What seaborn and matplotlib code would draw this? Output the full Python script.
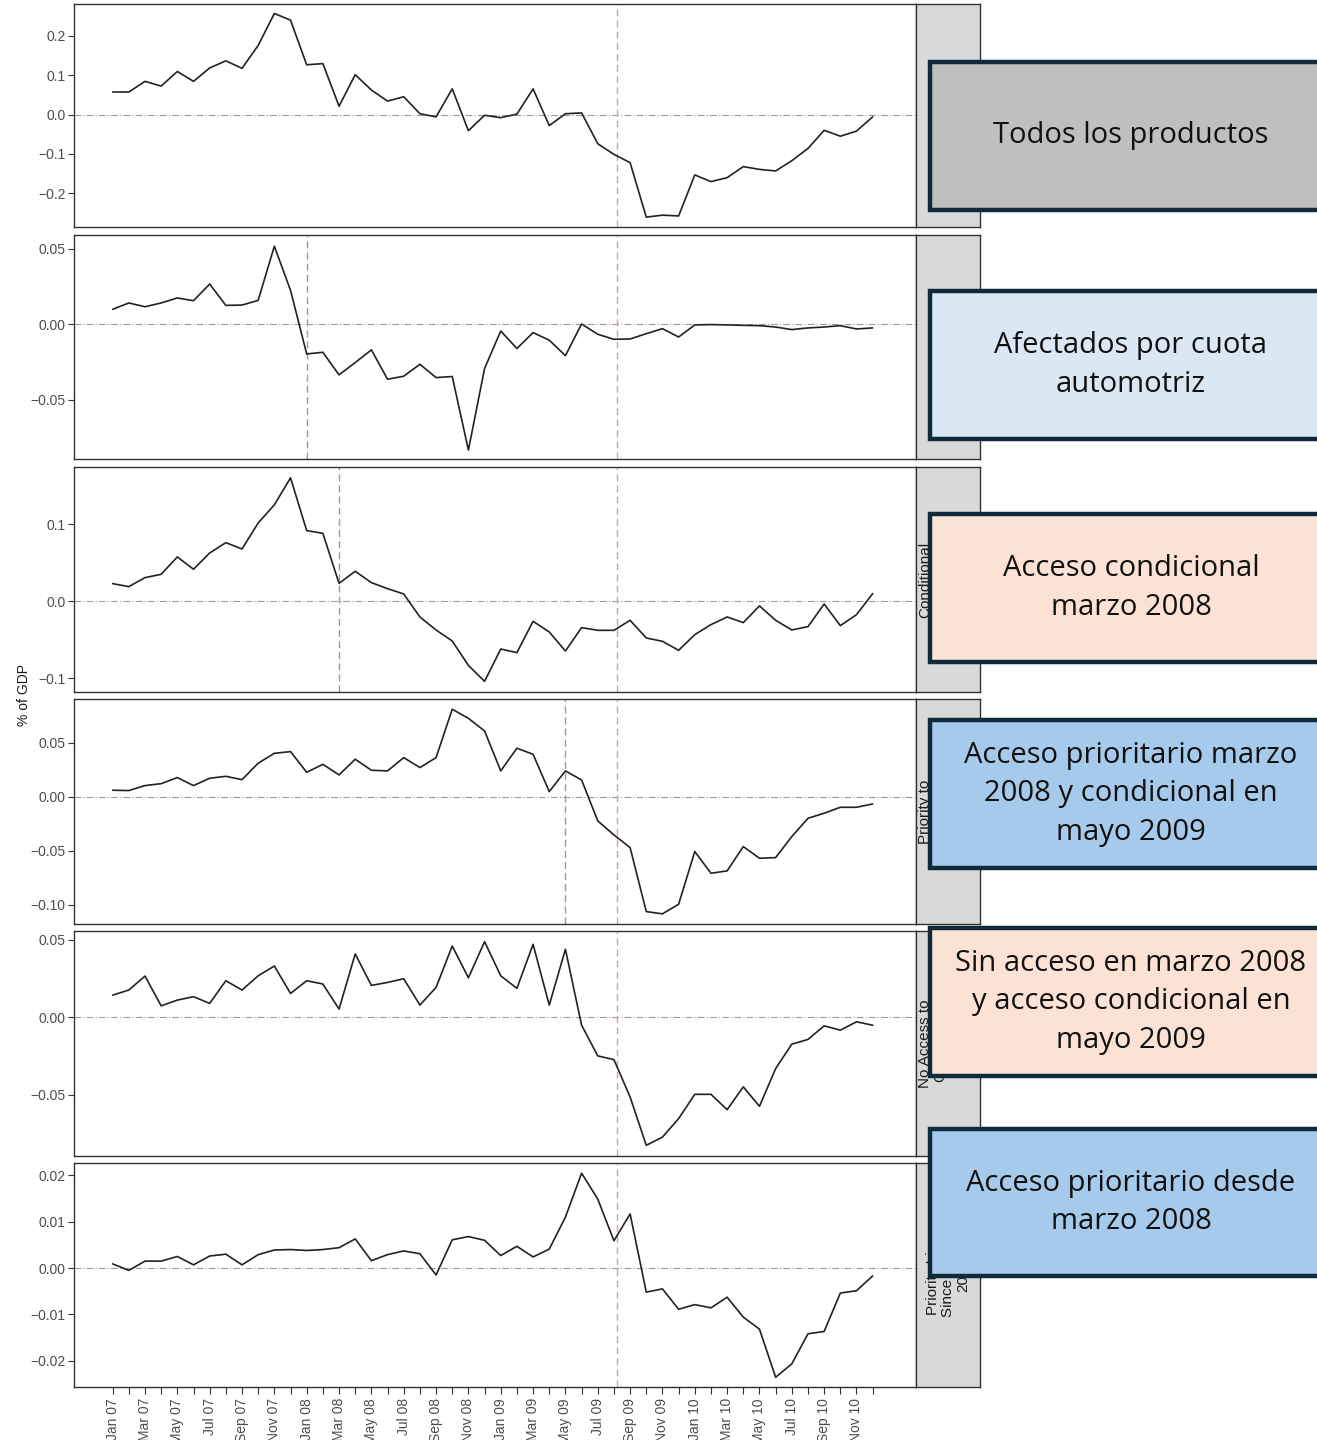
import numpy as np
import pandas as pd
import matplotlib
matplotlib.use('Agg')
import matplotlib.pyplot as plt
from matplotlib.patches import Rectangle
from matplotlib.ticker import FixedLocator, FuncFormatter
import seaborn as sns

#%% data
months = pd.date_range('2007-01-01', periods=48, freq='MS').strftime('%b %y').tolist()

todos = [0.057, 0.057, 0.084, 0.072, 0.109, 0.084, 0.118, 0.136, 0.117, 0.175,
         0.256, 0.239, 0.126, 0.129, 0.021, 0.101, 0.062, 0.034, 0.045, 0.002,
         -0.006, 0.065, -0.041, -0.002, -0.008, 0.001, 0.065, -0.028, 0.002, 0.004,
         -0.074, -0.101, -0.122, -0.260, -0.255, -0.257, -0.153, -0.170, -0.160, -0.132,
         -0.139, -0.143, -0.117, -0.086, -0.040, -0.055, -0.042, -0.006]

cuota = [0.0099, 0.0141, 0.0116, 0.0141, 0.0174, 0.0156, 0.0266, 0.0125, 0.0127, 0.0158,
         0.0516, 0.0224, -0.0196, -0.0185, -0.0334, -0.0253, -0.0169, -0.0363, -0.0343, -0.0264,
         -0.0352, -0.0345, -0.0831, -0.0292, -0.0044, -0.0160, -0.0055, -0.0105, -0.0207, 0.0002,
         -0.0066, -0.0099, -0.0097, -0.0062, -0.0029, -0.0084, -0.0004, -0.0002, -0.0004, -0.0007,
         -0.0009, -0.0018, -0.0035, -0.0024, -0.0018, -0.0009, -0.0031, -0.0024]

condicional = [0.0229, 0.0190, 0.0307, 0.0350, 0.0575, 0.0415, 0.0626, 0.0760, 0.0678, 0.1015,
               0.1250, 0.1600, 0.0916, 0.0881, 0.0233, 0.0389, 0.0242, 0.0164, 0.0095, -0.0203,
               -0.0372, -0.0514, -0.0830, -0.1037, -0.0618, -0.0665, -0.0259, -0.0397, -0.0644, -0.0341,
               -0.0376, -0.0376, -0.0246, -0.0475, -0.0518, -0.0635, -0.0432, -0.0302, -0.0203, -0.0276,
               -0.0060, -0.0246, -0.0371, -0.0328, -0.0035, -0.0315, -0.0173, 0.0099]

prioritario_cond = [0.0059, 0.0056, 0.0102, 0.0120, 0.0176, 0.0102, 0.0170, 0.0188, 0.0157, 0.0309,
                    0.0401, 0.0417, 0.0225, 0.0299, 0.0201, 0.0346, 0.0244, 0.0238, 0.0361, 0.0269,
                    0.0361, 0.0809, 0.0725, 0.0608, 0.0238, 0.0448, 0.0392, 0.0046, 0.0238, 0.0154,
                    -0.0225, -0.0355, -0.0472, -0.1065, -0.1086, -0.0997, -0.0509, -0.0710, -0.0688, -0.0463,
                    -0.0571, -0.0565, -0.0370, -0.0201, -0.0154, -0.0099, -0.0099, -0.0068]

sin_acceso = [0.0144, 0.0177, 0.0267, 0.0075, 0.0112, 0.0134, 0.0091, 0.0237, 0.0177, 0.0269,
              0.0332, 0.0155, 0.0237, 0.0216, 0.0054, 0.0410, 0.0207, 0.0226, 0.0250, 0.0080,
              0.0194, 0.0461, 0.0256, 0.0489, 0.0269, 0.0188, 0.0472, 0.0080, 0.0440, -0.0050,
              -0.0248, -0.0272, -0.0513, -0.0825, -0.0772, -0.0653, -0.0496, -0.0496, -0.0595, -0.0448,
              -0.0573, -0.0330, -0.0172, -0.0142, -0.0054, -0.0082, -0.0028, -0.0050]

prioritario = [0.0009, -0.0005, 0.0015, 0.0015, 0.0025, 0.0007, 0.0026, 0.0030, 0.0007, 0.0029,
               0.0039, 0.0040, 0.0038, 0.0040, 0.0044, 0.0063, 0.0016, 0.0029, 0.0037, 0.0031,
               -0.0015, 0.0061, 0.0068, 0.0060, 0.0027, 0.0047, 0.0024, 0.0041, 0.0110, 0.0205,
               0.0149, 0.0059, 0.0117, -0.0052, -0.0045, -0.0089, -0.0079, -0.0086, -0.0063, -0.0106,
               -0.0132, -0.0236, -0.0207, -0.0142, -0.0137, -0.0054, -0.0049, -0.0017]

series = [todos, cuota, condicional, prioritario_cond, sin_acceso, prioritario]

strip_labels = ['All Products', 'Affected by\nAuto Quota',
                'Conditional\nAccess\nMarch\n2008', 'Priority to\nConditional\nAccess\nMay 2009',
                'No Access to\nConditional\nLine until\nMay 2009', 'Priority Line\nSince March\n2008']

box_labels = ['Todos los productos', 'Afectados por cuota\nautomotriz',
              'Acceso condicional\nmarzo 2008', 'Acceso prioritario marzo\n2008 y condicional en\nmayo 2009',
              'Sin acceso en marzo 2008\ny acceso condicional en\nmayo 2009', 'Acceso prioritario desde\nmarzo 2008']
box_colors = ['#bfbfbf', '#dae8f6', '#fbe2d5', '#a6caec', '#fbe2d5', '#a6caec']

# month index of the event lines
red_line = months.index('Aug 09')
grey_lines = [None, months.index('Jan 08'), months.index('Mar 08'), months.index('May 09'), None, None]

y_ticks = [[-0.2, -0.1, 0.0, 0.1, 0.2], [-0.05, 0.0, 0.05], [-0.1, 0.0, 0.1],
           [-0.10, -0.05, 0.0, 0.05], [-0.05, 0.0, 0.05], [-0.02, -0.01, 0.0, 0.01, 0.02]]
y_dec = [1, 2, 1, 2, 2, 2]
y_lims = [(-0.285, 0.28), (-0.089, 0.059), (-0.1175, 0.174),
          (-0.118, 0.0904), (-0.0894, 0.0558), (-0.0257, 0.0227)]

#%% layout in pixels
W, H = 1317, 1440
panel_px = [(4, 227), (235, 459), (467, 692), (699, 924), (931, 1156), (1163, 1387)]
box_px = [(62, 210), (291, 439), (514, 662), (720, 868), (928, 1076), (1129, 1276)]
ax_left, ax_right, strip_right = 74, 916, 980

sns.set_style('white')
plt.rcParams['font.family'] = ['Liberation Sans', 'DejaVu Sans']

fig = plt.figure(figsize=(W / 100, H / 100), dpi=100)

for i, (top, bot) in enumerate(panel_px):
    ax = fig.add_axes([ax_left / W, 1 - bot / H, (ax_right - ax_left) / W, (bot - top) / H])
    df = pd.DataFrame({'idx': np.arange(len(months)), 'value': series[i]})
    sns.lineplot(data=df, x='idx', y='value', ax=ax, color='#222222', lw=1.2, zorder=3)

    ax.axhline(0, color='#9a9a9a', lw=0.8, dashes=(6, 2, 1, 2), zorder=1)
    ax.axvline(red_line + 0.2, color='#e396ac', lw=1.0, dashes=(5, 3), zorder=2)
    if grey_lines[i] is not None:
        ax.axvline(grey_lines[i], color='#9a9a9a', lw=1.0, dashes=(5, 3), zorder=2)

    ax.set_xlim(-2.39, 49.68)
    ax.set_ylim(*y_lims[i])
    ax.set_yticks(y_ticks[i])
    d = y_dec[i]
    ax.yaxis.set_major_formatter(FuncFormatter(lambda v, p, d=d: f'{v:.{d}f}'.replace('-', '\u2212')))
    ax.tick_params(axis='y', left=True, length=4, width=0.8, color='#333333',
                   labelsize=10, labelcolor='#4d4d4d', pad=2)
    ax.set_xlabel('')
    ax.set_ylabel('')
    for s in ax.spines.values():
        s.set_color('#333333')
        s.set_linewidth(1.0)

    if i == len(panel_px) - 1:
        ax.set_xticks(np.arange(0, len(months), 2))
        ax.set_xticklabels(months[::2], rotation=90, fontsize=10, color='#4d4d4d')
        ax.xaxis.set_minor_locator(FixedLocator(np.arange(1, len(months), 2)))
        ax.tick_params(axis='x', which='both', bottom=True, length=5, width=0.8,
                       color='#333333', pad=3)
    else:
        ax.set_xticks([])

    # facet strip on the right
    sx = fig.add_axes([ax_right / W, 1 - bot / H, (strip_right - ax_right) / W, (bot - top) / H])
    sx.set_facecolor('#d9d9d9')
    sx.set_xticks([])
    sx.set_yticks([])
    for s in sx.spines.values():
        s.set_color('#333333')
        s.set_linewidth(1.0)
    sx.text(0.5, 0.5, strip_labels[i], rotation=90, ha='center', va='center',
            fontsize=11, color='#1a1a1a', linespacing=1.1, transform=sx.transAxes)

fig.text(24 / W, 1 - 695 / H, '% of GDP', rotation=90, ha='center', va='center',
         fontsize=10, color='#1a1a1a')

# coloured label boxes on top
for (top, bot), lab, col in zip(box_px, box_labels, box_colors):
    fig.patches.append(Rectangle((930 / W, 1 - bot / H), 420 / W, (bot - top) / H,
                                 transform=fig.transFigure, facecolor=col,
                                 edgecolor='#0e2a3b', lw=3.2, zorder=10))
    fig.text(1131 / W, 1 - (top + bot) / 2 / H, lab, ha='center', va='center',
             fontsize=21, color='#111111', linespacing=1.45, zorder=11,
             family=['Open Sans', 'DejaVu Sans'])

fig.savefig('out.png', dpi=100)
